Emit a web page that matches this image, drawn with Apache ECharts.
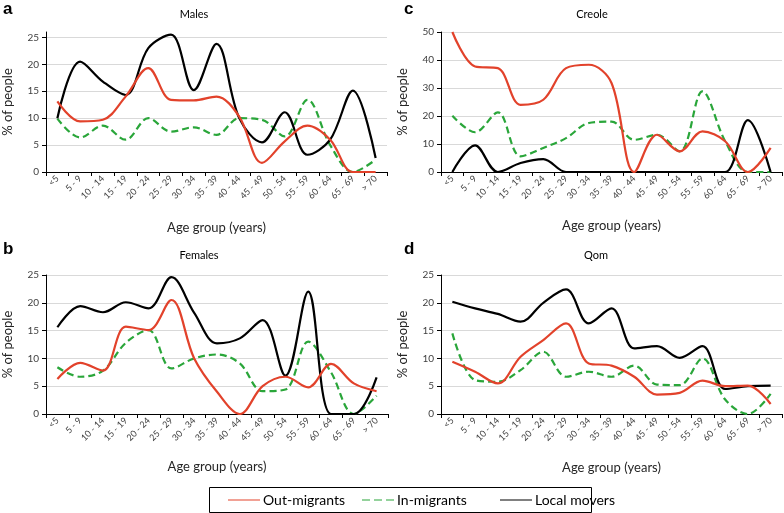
<!DOCTYPE html>
<html>
<head>
<meta charset="utf-8">
<script src="https://cdn.jsdelivr.net/npm/echarts@6/dist/echarts.min.js"></script>
<style>
html,body{margin:0;padding:0;background:#fff;}
#chart{width:784px;height:513px;}
</style>
</head>
<body>
<div id="chart"></div>
<script>
// ---- Data ----
const categories = ['<5','5 - 9','10 - 14','15 - 19','20 - 24','25 - 29','30 - 34','35 - 39','40 - 44','45 - 49','50 - 54','55 - 59','60 - 64','65 - 69','> 70'];

const malesOut   = [13.1, 9.4, 9.7, 14.0, 19.3, 13.4, 13.3, 14.0, 10.3, 1.7, 5.7, 8.6, 6.0, 0, 0];
const malesIn    = [9.9, 6.4, 8.6, 6.0, 10.0, 7.5, 8.3, 6.9, 10.0, 9.7, 6.6, 13.4, 5.0, 0, 2.3];
const malesLocal = [10.0, 20.5, 16.8, 14.3, 23.0, 25.5, 15.2, 23.8, 10.0, 5.5, 11.1, 3.2, 6.0, 15.1, 2.6];

const femalesOut   = [6.3, 9.2, 7.8, 15.7, 15.1, 20.5, 10.0, 4.0, 0, 5.0, 6.7, 4.8, 9.0, 5.5, 4.1];
const femalesIn    = [8.4, 6.7, 7.8, 12.8, 15.1, 8.2, 10.0, 10.7, 9.1, 4.1, 4.4, 13.0, 7.5, 0, 3.3];
const femalesLocal = [15.6, 19.4, 18.3, 20.1, 19.0, 24.6, 18.2, 12.7, 13.6, 16.9, 6.9, 22.0, 0, 0, 6.6];

const creoleOut   = [50, 37.7, 37.1, 24.0, 25.8, 37.1, 38.3, 31.8, 0, 13.3, 7.4, 14.5, 11.0, 0, 8.6];
const creoleIn    = [20.1, 14.2, 21.3, 5.6, 8.6, 12.1, 17.5, 18.0, 11.5, 13.3, 7.4, 28.8, 11.0, 0, 0];
const creoleLocal = [0, 9.5, 0, 3.2, 4.6, 0, 0, 0, 0, 0, 0, 0, 0, 18.5, 0];

const qomOut   = [9.4, 7.6, 5.5, 10.3, 13.3, 16.3, 9.1, 8.7, 6.7, 3.5, 3.8, 6.0, 5.0, 5.1, 1.8];
const qomIn    = [14.5, 6.1, 5.8, 7.9, 11.2, 6.7, 7.6, 6.7, 8.7, 5.3, 5.2, 10.0, 2.6, 0, 3.6];
const qomLocal = [20.2, 19.0, 18.0, 16.6, 20.0, 22.4, 16.3, 19.0, 11.8, 12.2, 10.1, 12.2, 4.5, 5.0, 5.1];

const ticks25 = [0, 5, 10, 15, 20, 25];
const ticks50 = [0, 10, 20, 30, 40, 50];

const seriesNames = ['Out-migrants', 'In-migrants', 'Local movers'];
const panelTitles = ['Males', 'Creole', 'Females', 'Qom'];
const panelLetters = ['a', 'c', 'b', 'd'];
const panelData = [
  [malesOut, malesIn, malesLocal],
  [creoleOut, creoleIn, creoleLocal],
  [femalesOut, femalesIn, femalesLocal],
  [qomOut, qomIn, qomLocal]
];

// ---- Layout / style ----
const FONT = 'Lato';
const RED = '#e2422b';
const GREEN = '#2aa63a';
const BLACK = '#000000';
const colors = [RED, GREEN, BLACK];

const grids = [
  {left: 44, top: 32, width: 343, height: 140},
  {left: 441, top: 32, width: 341, height: 140},
  {left: 45, top: 275, width: 343, height: 139},
  {left: 441, top: 275, width: 341, height: 139}
];
const yMax = [26, 50, 25, 25];
const yInterval = [5, 10, 5, 5];
const yTicks = [ticks25, ticks50, ticks25, ticks25];
const xNameGap = [49, 47, 46, 47];
const titlePos = [[194, 14], [592, 14], [199, 255], [596, 255]];
const letterPos = [[3, 10], [404, 10], [3, 250], [404, 250]];

const xAxes = grids.map((g, i) => ({
  type: 'category', gridIndex: i, data: categories, boundaryGap: true,
  name: 'Age group (years)', nameLocation: 'middle', nameGap: xNameGap[i],
  nameTextStyle: {fontFamily: FONT, fontSize: 13, color: '#262626'},
  axisLine: {lineStyle: {color: '#000', width: 1}},
  axisTick: {show: true, length: 4, lineStyle: {color: '#000'}},
  axisLabel: {interval: 0, rotate: 45, fontFamily: FONT, fontSize: 9, color: '#404040', margin: 5},
  splitLine: {show: false}
}));

const yAxes = grids.map((g, i) => ({
  type: 'value', gridIndex: i, min: 0, max: yMax[i], interval: yInterval[i],
  name: '% of people', nameLocation: 'middle', nameGap: 32, nameRotate: 90,
  nameTextStyle: {fontFamily: FONT, fontSize: 13, color: '#262626'},
  axisLine: {show: true, lineStyle: {color: '#000', width: 1}},
  axisTick: {show: true, length: 4, lineStyle: {color: '#000'}, customValues: yTicks[i]},
  axisLabel: {fontFamily: FONT, fontSize: 10, color: '#404040', margin: 7, customValues: yTicks[i]},
  splitLine: {show: true, lineStyle: {color: '#d9d9d9', width: 1}}
}));

const series = [];
panelData.forEach((arrs, p) => {
  arrs.forEach((arr, k) => {
    series.push({
      name: seriesNames[k], type: 'line', xAxisIndex: p, yAxisIndex: p,
      data: arr, smooth: 0.35, symbol: 'none', showSymbol: false,
      clip: true, z: k === 2 ? 3 : (k === 0 ? 4 : 2),
      lineStyle: {color: colors[k], width: 2.2, type: k === 1 ? [7, 4] : 'solid'},
      itemStyle: {color: colors[k]}
    });
  });
});

const solidIcon = 'path://M0,0h32v1h-32z';
const dashIcon = 'path://M0,0h8v1h-8zM12,0h8v1h-8zM24,0h8v1h-8z';
const legendIcons = [solidIcon, dashIcon, solidIcon];
const legendLeft = [223, 357, 495];
const legends = seriesNames.map((n, k) => ({
  data: [{name: n, icon: legendIcons[k]}], left: legendLeft[k], top: 488,
  itemWidth: 32, itemHeight: 3, itemGap: 0,
  selectedMode: false,
  textStyle: {fontFamily: FONT, fontSize: 14, color: '#000', padding: [0, 0, 0, -2]}
}));

const graphics = [];
panelTitles.forEach((t, i) => {
  graphics.push({type: 'text', x: titlePos[i][0], y: titlePos[i][1],
    style: {text: t, font: '11px ' + FONT, fill: '#000', align: 'center', verticalAlign: 'middle'}});
});
panelLetters.forEach((t, i) => {
  graphics.push({type: 'text', x: letterPos[i][0], y: letterPos[i][1] - 9,
    style: {text: t, font: 'bold 17px Arial, "Liberation Sans"', fill: '#000'}});
});
graphics.push({type: 'rect', shape: {x: 209.5, y: 487.5, width: 382, height: 25},
  style: {fill: 'none', stroke: '#000', lineWidth: 1}});

const chart = echarts.init(document.getElementById('chart'), null, {renderer: 'canvas'});
chart.setOption({
  backgroundColor: '#fff',
  animation: false,
  grid: grids,
  xAxis: xAxes,
  yAxis: yAxes,
  legend: legends,
  graphic: graphics,
  series: series
});
</script>
</body>
</html>
